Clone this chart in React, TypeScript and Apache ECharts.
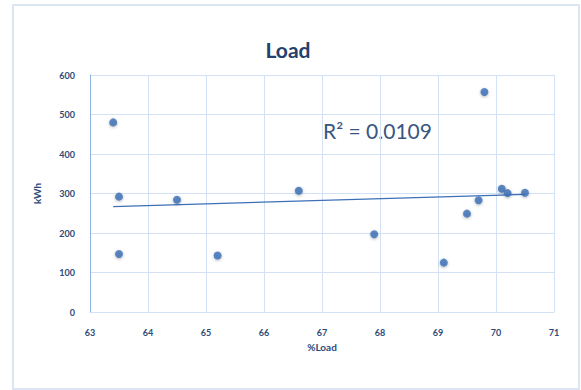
import React, { useEffect, useRef } from "react";
import * as echarts from "echarts";

const loadPct = [63.4, 63.5, 63.5, 64.5, 65.2, 66.6, 67.9, 69.1, 69.5, 69.7, 69.8, 70.1, 70.2, 70.5];
const kwh = [480, 292, 147, 284, 143, 307, 197, 125, 249, 283, 557, 312, 301, 302];
const titleText = "Load";
const xName = "%Load";
const yName = "kWh";
const r2Text = "R² = 0.0109";

function linearFit(xs: number[], ys: number[]) {
  const n = xs.length;
  const mx = xs.reduce((a, b) => a + b, 0) / n;
  const my = ys.reduce((a, b) => a + b, 0) / n;
  let sxy = 0, sxx = 0;
  for (let i = 0; i < n; i++) {
    sxy += (xs[i] - mx) * (ys[i] - my);
    sxx += (xs[i] - mx) * (xs[i] - mx);
  }
  const slope = sxy / sxx;
  return { slope, intercept: my - slope * mx };
}

export default function App() {
  const ref = useRef<HTMLDivElement>(null);
  useEffect(() => {
    if (!ref.current) return;
    const chart = echarts.init(ref.current, null, { renderer: "svg" });
    const { slope, intercept } = linearFit(loadPct, kwh);
    const xmin = Math.min(...loadPct);
    const xmax = Math.max(...loadPct);
    const trend = [
      [xmin, intercept + slope * xmin],
      [xmax, intercept + slope * xmax],
    ];
    const txt = "#2E4A78";
    const font = "Lato";
    chart.setOption({
      animation: false,
      backgroundColor: "#ffffff",
      title: {
        text: titleText,
        left: 283,
        top: 34,
        textAlign: "center",
        textStyle: { fontFamily: font, fontSize: 21, fontWeight: "bold", color: "#24406C" },
      },
      graphic: [
        {
          type: "rect",
          shape: { x: 13, y: 5, width: 566, height: 384 },
          style: { fill: "none", stroke: "#DCE6F3", lineWidth: 2 },
          silent: true,
        },
        {
          type: "text",
          x: 323,
          y: 130,
          style: { text: r2Text, fontFamily: font, fontSize: 21, fill: "#3A5580", verticalAlign: "middle" },
        },
      ],
      grid: { left: 90, right: 27, top: 75, bottom: 78 },
      xAxis: {
        type: "value",
        min: 63,
        max: 71,
        interval: 1,
        name: xName,
        nameLocation: "middle",
        nameGap: 27,
        nameTextStyle: { fontFamily: font, fontSize: 10, fontWeight: "bold", color: txt },
        axisLine: { show: true, lineStyle: { color: "#D3E1F4" } },
        axisTick: { show: false },
        axisLabel: { fontFamily: font, fontSize: 9, fontWeight: "bold", color: txt, margin: 16 },
        splitLine: { show: true, lineStyle: { color: "#D3E1F4", width: 1 } },
      },
      yAxis: {
        type: "value",
        min: 0,
        max: 600,
        interval: 100,
        name: yName,
        nameLocation: "middle",
        nameGap: 48,
        nameRotate: 90,
        nameTextStyle: { fontFamily: font, fontSize: 10, fontWeight: "bold", color: txt },
        axisLine: { show: true, lineStyle: { color: "#8FB3E0", width: 1 } },
        axisTick: { show: false },
        axisLabel: { fontFamily: font, fontSize: 9, fontWeight: "bold", color: txt, margin: 15 },
        splitLine: { show: true, lineStyle: { color: "#D3E1F4", width: 1 } },
      },
      series: [
        {
          type: "line",
          data: trend,
          symbol: "none",
          lineStyle: { color: "#3D70B8", width: 1.2 },
          silent: true,
          z: 1,
        },
        {
          type: "scatter",
          data: loadPct.map((x, i) => [x, kwh[i]]),
          symbolSize: 8,
          itemStyle: {
            color: "#3A6DB5",
            shadowBlur: 3,
            shadowColor: "rgba(0,0,0,0.35)",
            shadowOffsetY: 1,
          },
          z: 3,
        },
      ],
    });
    return () => chart.dispose();
  }, []);
  return (
    <div
      ref={ref}
      style={{ position: "fixed", left: 0, top: 0, width: 581, height: 390 }}
    />
  );
}
